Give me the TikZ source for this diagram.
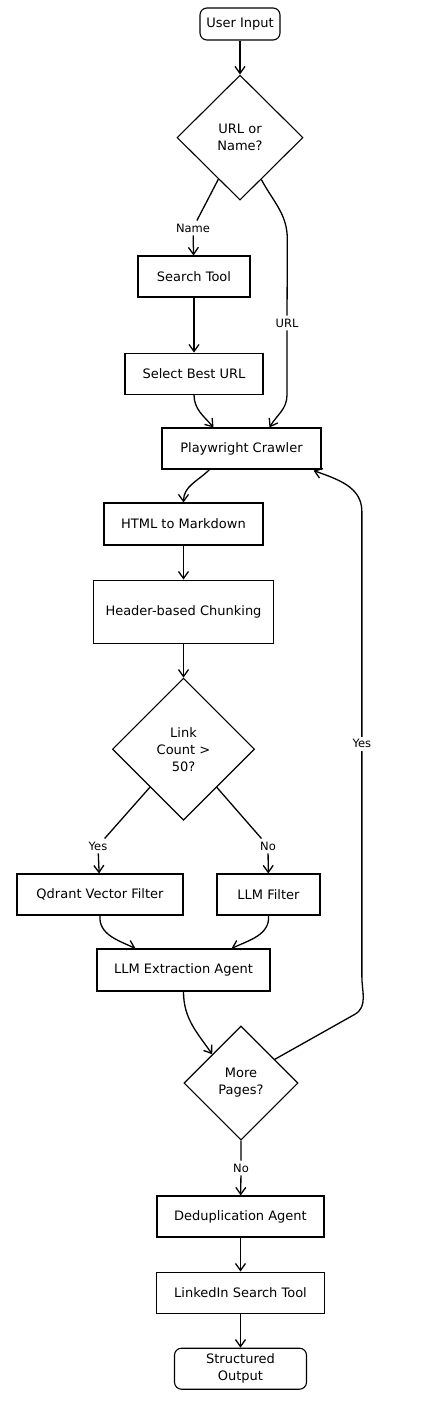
\documentclass[tikz,border=0pt]{standalone}
\usepackage{fontspec}
\setmainfont{DejaVu Sans}
\usetikzlibrary{shapes.geometric, arrows.meta, positioning, calc}

\begin{document}
\begin{tikzpicture}[
    x=1pt, y=1pt,
    node distance=34pt,
    >={Straight Barb[length=7pt,width=10pt]},
    font=\fontsize{13}{17}\selectfont,
    box/.style={rectangle, draw, line width=1.1pt, minimum height=41pt, align=center, inner sep=3pt},
    term/.style={box, rounded corners=7pt},
    decision/.style={diamond, draw, line width=1.1pt, align=center, inner sep=0pt},
    arrow/.style={->, line width=1.3pt},
    lbl/.style={font=\fontsize{11.5}{13}\selectfont, inner sep=3pt},
    loop label/.style={lbl, fill=white}
]
    \useasboundingbox (0,0) rectangle (434,-1402);

    % main flow
    \node[term, minimum width=80pt, minimum height=32pt] (ui) at (240,-24) {User Input};
    \node[decision, minimum width=126pt, minimum height=125pt, below=of ui] (dec1) {URL or\\Name?};
    \node[box, minimum width=112pt] (search) at (194,-276.5) {Search Tool};
    \node[box, minimum width=138pt, below=55pt of search] (select) {Select Best URL};
    \node[box, minimum width=159pt] (crawler) at (241.5,-448.5) {Playwright Crawler};
    \node[box, minimum width=159pt, minimum height=42pt] (html) at (183.5,-524) {HTML to Markdown};
    \node[box, minimum width=180pt, minimum height=63pt, below=of html] (chunk) {Header-based Chunking};
    \node[decision, minimum width=142pt, minimum height=142pt, below=of chunk] (dec2) {Link\\Count >\\50?};
    \node[box, minimum width=166pt] (qdrant) at (100,-894.5) {Qdrant Vector Filter};
    \node[box, minimum width=103pt] (llmf) at (268.5,-894.5) {LLM Filter};
    \node[box, minimum width=173pt, minimum height=42pt] (extract) at (183.5,-970) {LLM Extraction Agent};
    \node[decision, minimum width=114pt, minimum height=114pt] (more) at (241,-1083) {More\\Pages?};
    \node[box, minimum width=167pt] (dedup) at (240.5,-1216.5) {Deduplication Agent};
    \node[box, minimum width=168pt, below=of dedup] (linked) {LinkedIn Search Tool};
    \node[term, minimum width=132pt, below=of linked] (out) {Structured\\Output};

    % edge labels
    \node[lbl] (lName) at (193,-228) {Name};
    \node[lbl] (lURL) at (287,-323) {URL};
    \node[lbl] (lYes) at (98,-846) {Yes};
    \node[lbl] (lNo) at (268,-846) {No};
    \node[lbl] (lNoEnd) at (241,-1168) {No};

    % connectors
    \draw[arrow] (ui) -- (dec1);
    \draw[arrow] (dec1) -- (lName) -- (search);
    \draw[arrow] (dec1.-63) to[out=-62,in=90] ++(26,-60) -- (lURL) -- ++(0,-72)
        to[out=-90,in=60] ($(crawler.north)+(28,0)$);
    \draw[arrow] (search) -- (select);
    \draw[arrow] (select.south) to[out=-90,in=130] ($(crawler.north)+(-28,0)$);
    \draw[arrow] ($(crawler.south)+(-32,0)$) to[out=-135,in=90] (html.north);
    \draw[arrow] (html) -- (chunk);
    \draw[arrow] (chunk) -- (dec2);
    \draw[arrow] (dec2) -- (lYes) -- (qdrant);
    \draw[arrow] (dec2) -- (lNo) -- (llmf);
    \draw[arrow] (qdrant.south) to[out=-95,in=155] ($(extract.north)+(-48,0)$);
    \draw[arrow] (llmf.south) to[out=-85,in=25] ($(extract.north)+(48,0)$);
    \draw[arrow] (extract.south) to[out=-90,in=125] (more.north west);
    \draw[arrow] (more.35) -- ++(80,45) to[out=30,in=-90] ++(7,38)
        -- node[loop label] (lLoop) {Yes} ++(0,465)
        to[out=90,in=-20] ($(crawler.south east)+(-8,-1)$);
    \draw[arrow] (more) -- (lNoEnd) -- (dedup);
    \draw[arrow] (dedup) -- (linked);
    \draw[arrow] (linked) -- (out);
\end{tikzpicture}
\end{document}
